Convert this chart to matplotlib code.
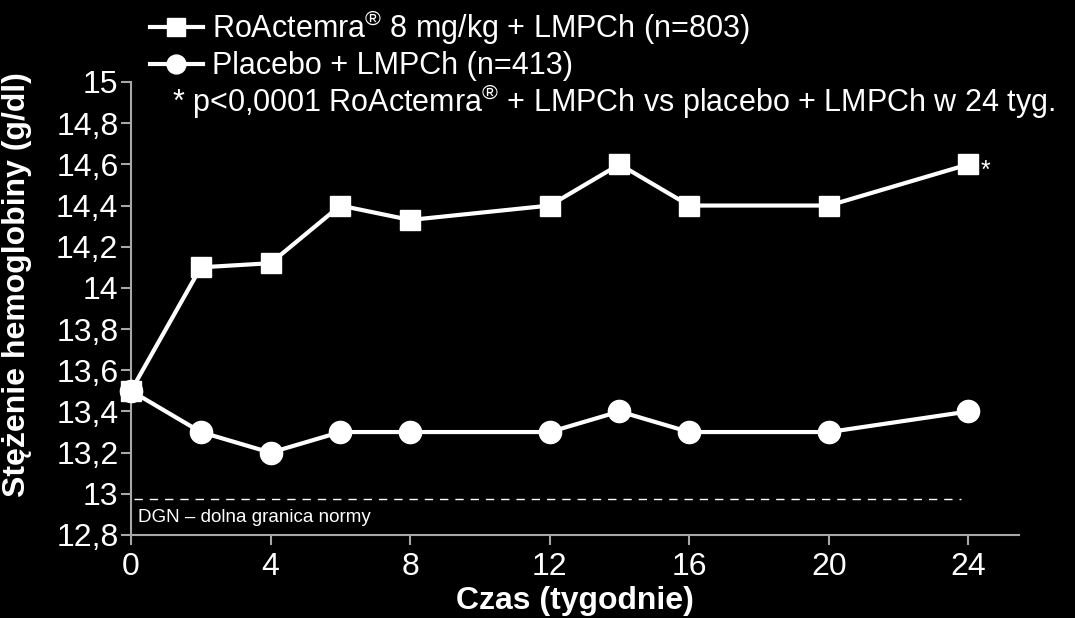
import matplotlib
matplotlib.use("Agg")
import matplotlib.pyplot as plt

plt.rcParams['font.family'] = ['Liberation Sans', 'DejaVu Sans']
plt.rcParams['mathtext.fontset'] = 'custom'
plt.rcParams['mathtext.rm'] = 'Liberation Sans'
plt.rcParams['mathtext.it'] = 'Liberation Sans'
plt.rcParams['mathtext.bf'] = 'Liberation Sans:bold'

# data
weeks_act = [0, 2, 4, 6, 8, 12, 14, 16, 20, 24]
hb_act = [13.5, 14.1, 14.12, 14.4, 14.33, 14.4, 14.6, 14.4, 14.4, 14.6]
weeks_pla = [0, 2, 4, 6, 8, 12, 14, 16, 20, 24]
hb_pla = [13.5, 13.3, 13.2, 13.3, 13.3, 13.3, 13.4, 13.3, 13.3, 13.4]
dgn_level = 12.973

xticks = [0, 4, 8, 12, 16, 20, 24]
yticks = [12.8, 13, 13.2, 13.4, 13.6, 13.8, 14, 14.2, 14.4, 14.6, 14.8, 15]
ytick_labels = [f"{v:g}".replace(".", ",") for v in yticks]

reg = r"$^{\circledR}$"
label_act = "RoActemra" + reg + " 8 mg/kg + LMPCh (n=803)"
label_pla = "Placebo + LMPCh (n=413)"
note = "* p<0,0001 RoActemra" + reg + " + LMPCh vs placebo + LMPCh w 24 tyg."

fig = plt.figure(figsize=(10.75, 6.18), dpi=100, facecolor='black')
ax = fig.add_axes([131/1075, 83/618, (1019-131)/1075, (535-82)/618])
ax.set_facecolor('black')

ax.plot(weeks_pla, hb_pla, color='white', lw=3, marker='o', ms=16,
        label=label_pla, zorder=3, clip_on=False)
ax.plot(weeks_act, hb_act, color='white', lw=3, marker='s', ms=15,
        label=label_act, zorder=4, clip_on=False)

ax.plot([0.1, 23.8], [dgn_level, dgn_level], color='white', lw=1,
        dashes=(6, 5))
ax.text(0.2, dgn_level - 0.045, "DGN \u2013 dolna granica normy", color='white',
        fontsize=13.5, va='top', ha='left')

ax.annotate("*", xy=(weeks_act[-1], hb_act[-1]), xytext=(9, -5),
            textcoords='offset points', color='white', fontsize=18,
            ha='left', va='center')

ax.set_xlim(0, 25.45)
ax.set_ylim(12.8, 15)
ax.set_xticks(xticks)
ax.set_yticks(yticks)
ax.set_yticklabels(ytick_labels)

for side in ['top', 'right']:
    ax.spines[side].set_visible(False)
for side in ['left', 'bottom']:
    ax.spines[side].set_color('#a8a8a8')
    ax.spines[side].set_linewidth(1.5)
ax.tick_params(colors='#a8a8a8', width=1.5, length=7, labelcolor='white',
               labelsize=23)
ax.tick_params(axis='y', pad=2)
ax.tick_params(axis='x', pad=5)

ax.set_xlabel("Czas (tygodnie)", color='white', fontsize=23,
              fontweight='bold', labelpad=3)
ax.set_ylabel("St\u0119\u017cenie hemoglobiny (g/dl)", color='white',
              fontsize=23, fontweight='bold')
ax.yaxis.set_label_coords(-0.1115, 0.552)

handles, labels = ax.get_legend_handles_labels()
leg = fig.legend(handles[::-1], labels[::-1], loc='upper left',
                 bbox_to_anchor=(122/1075, 1.033), frameon=False,
                 fontsize=22, handlelength=1.75, handletextpad=0.3,
                 labelspacing=0.15, labelcolor='white', markerscale=0.85)

fig.text(172/1075, 1 - 101/618, note, color='white', fontsize=22,
         ha='left', va='center')

fig.savefig("out.png", dpi=100, facecolor='black')
